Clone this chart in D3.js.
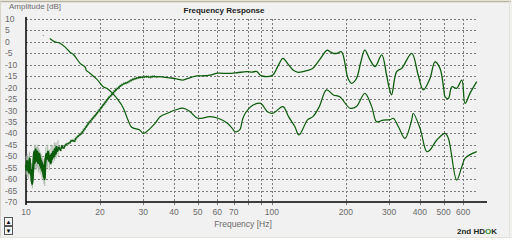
<!DOCTYPE html>
<html>
<head>
<meta charset="utf-8">
<script src="https://cdnjs.cloudflare.com/ajax/libs/d3/7.8.5/d3.min.js"></script>
<style>
  body { margin: 0; background: #fff; }
  svg { display: block; font-family: "Liberation Sans", Arial, sans-serif; }
</style>
</head>
<body>
<div id="chart"></div>
<script>
// y ticks (dB) and x tick labels (Hz)
var yTicks = [10, 5, 0, -5, -10, -15, -20, -25, -30, -35, -40, -45, -50, -55, -60, -65, -70];
var xLabels = [10, 20, 30, 40, 50, 60, 70, 100, 200, 300, 400, 500, 600];
var xGrid = [20, 30, 40, 50, 60, 70, 80, 90, 100, 200, 300, 400, 500, 600];

// curve A : noisy at low frequency, upper curve at high frequency
var freqA = [10.0, 10.05, 10.1, 10.15, 10.2, 10.25, 10.3, 10.35, 10.4, 10.45, 10.5, 10.55, 10.6, 10.65, 10.7, 10.75,
	10.8, 10.85, 10.9, 10.95, 11.0, 11.05, 11.1, 11.15, 11.2, 11.25, 11.3, 11.35, 11.4, 11.45, 11.5, 11.55, 11.6,
	11.65, 11.7, 11.75, 11.8, 11.85, 11.9, 11.95, 12.0, 12.1, 12.2, 12.3, 12.4, 12.5, 12.6, 12.7, 12.8, 12.9, 13.0,
	13.1, 13.2, 13.3, 13.4, 13.6, 13.8, 14.0, 14.2, 14.5, 14.8, 15.1, 15.4, 15.7, 16.0, 16.4, 16.8, 17.2, 17.6,
	18.0, 18.5, 19.0, 19.5, 20.0, 20.5, 21.0, 21.5, 22.0, 22.6, 23.2, 23.8, 24.4, 25.0, 25.8, 26.6, 27.4, 28.3,
	29.2, 30.0, 31, 32, 33, 34, 35.1, 37, 39, 41, 43.5, 46, 49.6, 53, 56, 60.4, 66, 72, 79, 83, 87, 89.5, 92,
	95.6, 101, 106, 111, 116, 122, 128, 134, 140, 147, 156, 168, 172.5, 178, 184, 192, 204, 211, 221, 230, 239,
	251, 263, 280, 293, 300, 307, 322, 338, 371, 394, 413, 440, 461, 483, 500, 507, 523, 540, 565, 593, 611, 640, 682];
var dbA = [-54, -56, -52, -55, -53, -57, -54, -51, -55, -58, -56, -60, -62, -58, -55, -51,
	-48, -53, -50, -47, -52, -49, -51, -48, -53, -50, -52, -49, -54, -51, -55, -52, -56,
	-53, -57, -54, -59, -56, -60, -55, -52, -49, -51, -48, -52, -50, -53, -49, -51, -48, -50,
	-47, -49, -46, -48, -46, -47.5, -45.5, -46.5, -45, -44.5, -44, -43, -43.5, -42, -41, -40, -38.5, -37,
	-35.5, -34, -32.5, -31, -29.5, -28, -26.5, -25, -23.8, -22.4, -21, -20, -19, -18.3, -17.8, -17, -16.3, -15.8,
	-15.5, -15.4, -15.2, -15.4, -15.1, -15.3, -15.2, -15.5, -15.8, -16.2, -16.7, -15.8, -14.9, -14.8, -14.5, -13.7, -13.8, -13.5, -13, -13.2, -13, -14.5, -15,
	-15.2, -14.5, -10.5, -7.2, -9.5, -12.3, -13.3, -13, -12.5, -11.5, -8, -3.6, -4.3, -5, -5, -4.3, -15.8, -18.1, -16, -9, -3.6,
	-7.9, -10.8, -5.7, -14.5, -20, -23.2, -13, -11.5, -5, -14.5, -21, -16, -8.7, -11.5, -20, -24, -24.7, -19.6, -20.3, -16.7, -26.9, -22.5, -17.4];

// light noise spikes around curve A at low frequency (min / max of the grey band)
var freqSpike = [10.02, 10.12, 10.22, 10.32, 10.42, 10.52, 10.62, 10.72, 10.82, 10.92, 11.02, 11.12, 11.22, 11.32,
	11.42, 11.52, 11.62, 11.72, 11.82, 11.92, 12.05, 12.25, 12.45, 12.65, 12.85, 13.05, 13.25, 13.5];
var dbSpikeLo = [-58, -59, -60, -57, -61, -63, -64, -60, -56, -55, -56, -55, -57, -56, -58, -57, -60, -59, -62, -63,
	-56, -55, -56, -54, -53, -52, -51, -50];
var dbSpikeHi = [-50, -49, -50, -48, -51, -53, -54, -49, -45, -45, -46, -45, -46, -47, -48, -49, -50, -51, -52, -51,
	-46, -45, -47, -45, -45, -44, -44, -43];

// curve B : starts near 0 dB, dips around 30 Hz, lower curve at high frequency
var freqB = [12.5, 13.1, 13.75, 14.5, 15.1, 15.6, 16.6, 17.4, 17.6, 18.2, 19.4, 20.6, 21.3, 22.5, 23.7, 24.9, 26.0,
	26.9, 29.0, 30.0, 33.5, 35.1, 38, 40.5, 43.5, 46.5, 50, 56, 60.5, 66, 69, 71, 74, 76, 78, 84, 90, 96, 101, 111,
	117, 124, 129, 140, 147, 156, 167, 178, 189, 208, 221, 239, 255, 267, 284, 303, 312, 327, 348, 371, 376, 401,
	427, 440, 469, 507, 523, 565, 593, 611, 682];
var dbB = [1.5, 0, -0.6, -2.5, -4.5, -5.5, -9.4, -11, -12.5, -13.7, -16.3, -19.6, -20.3, -22.5, -25.4, -29, -34.2,
	-37.3, -38.5, -40, -35.6, -32.7, -31, -29.8, -29, -30.5, -33.4, -32.7, -33.4, -35.6, -37.8, -39.3, -38.5, -34, -31.2, -27.6, -26.9, -30.5, -31.2, -28.3,
	-32.7, -37, -40.7, -34, -32.7, -28.3, -21, -23.2, -24, -29, -28.3, -22.5, -28.3, -34.9, -34.2, -34, -33.4, -37, -42.2, -34, -31.2, -37.8,
	-48, -47.3, -42.9, -40, -42.2, -60.4, -54.6, -50.9, -48];

var W = 512, H = 251;
var plotL = 26, plotR = 478, plotT = 19, plotB = 202;

var svg = d3.select("#chart")
	.append("svg")
	.attr("width", W)
	.attr("height", H);

// panel
svg.append("rect")
	.attr("x", 0).attr("y", 0)
	.attr("width", W).attr("height", 238)
	.attr("fill", "#f1f1f1");
svg.append("line")
	.attr("x1", 0).attr("x2", 511).attr("y1", 1.5).attr("y2", 1.5)
	.attr("stroke", "#b9b29c").attr("stroke-width", 1.5);
svg.append("line")
	.attr("x1", 0.5).attr("x2", 0.5).attr("y1", 1).attr("y2", 238)
	.attr("stroke", "#d8d4c8");
svg.append("line")
	.attr("x1", 509.5).attr("x2", 509.5).attr("y1", 1).attr("y2", 238)
	.attr("stroke", "#e4e1d8");
svg.append("line")
	.attr("x1", 0).attr("x2", 511).attr("y1", 237.5).attr("y2", 237.5)
	.attr("stroke", "#e4e1d8");

var x = d3.scaleLog()
	.domain([10, 690])
	.range([plotL, plotR]);

var y = d3.scaleLinear()
	.domain([-70, 10])
	.range([plotB, plotT]);

// grid
svg.append("g")
	.selectAll("line")
	.data(yTicks.filter(function (d) { return d > -70; }))
	.enter()
	.append("line")
	.attr("x1", plotL)
	.attr("x2", plotR)
	.attr("y1", function (d) { return Math.round(y(d)) + 0.5; })
	.attr("y2", function (d) { return Math.round(y(d)) + 0.5; })
	.attr("stroke", "#7a7a7a")
	.attr("stroke-dasharray", "2,2");

svg.append("g")
	.selectAll("line")
	.data(xGrid)
	.enter()
	.append("line")
	.attr("x1", function (d) { return Math.round(x(d)) + 0.5; })
	.attr("x2", function (d) { return Math.round(x(d)) + 0.5; })
	.attr("y1", plotT)
	.attr("y2", plotB + 4)
	.attr("stroke", "#7a7a7a")
	.attr("stroke-dasharray", "2,2");

// axes lines
svg.append("line")
	.attr("x1", plotL).attr("x2", plotL)
	.attr("y1", plotT - 2).attr("y2", plotB + 3)
	.attr("stroke", "#000").attr("stroke-width", 1.5);
svg.append("line")
	.attr("x1", plotL).attr("x2", 487)
	.attr("y1", plotB).attr("y2", plotB)
	.attr("stroke", "#000").attr("stroke-width", 1.5);

// tick labels
svg.append("g")
	.selectAll("text")
	.data(yTicks)
	.enter()
	.append("text")
	.attr("x", 5)
	.attr("y", function (d) { return y(d) + 3; })
	.style("font-size", "8.5px")
	.attr("fill", "#6b6b6b")
	.text(function (d) { return d; });

svg.append("g")
	.selectAll("text")
	.data(xLabels)
	.enter()
	.append("text")
	.attr("x", function (d) { return x(d); })
	.attr("y", 215)
	.attr("text-anchor", "middle")
	.style("font-size", "8.5px")
	.attr("fill", "#6b6b6b")
	.text(function (d) { return d; });

svg.append("text")
	.attr("x", 9)
	.attr("y", 9)
	.style("font-size", "8px")
	.attr("fill", "#6b6b6b")
	.text("Amplitude [dB]");

svg.append("text")
	.attr("x", 224)
	.attr("y", 13)
	.attr("text-anchor", "middle")
	.style("font-size", "8px")
	.style("font-weight", "bold")
	.attr("fill", "#222")
	.text("Frequency Response");

svg.append("text")
	.attr("x", 243)
	.attr("y", 227)
	.attr("text-anchor", "middle")
	.style("font-size", "8.5px")
	.attr("fill", "#6b6b6b")
	.text("Frequency [Hz]");

var hd = svg.append("text")
	.attr("x", 497)
	.attr("y", 234)
	.attr("text-anchor", "end")
	.style("font-size", "8px")
	.style("font-weight", "bold")
	.attr("fill", "#1e2a1e");
hd.append("tspan").text("2nd HD");
hd.append("tspan").attr("fill", "#2e8b2e").text("O");
hd.append("tspan").text("K");

// scroll buttons
[[217, "▲"], [226, "▼"]].forEach(function (b) {
	svg.append("rect")
		.attr("x", 4.5).attr("y", b[0] + 0.5)
		.attr("width", 8).attr("height", 8)
		.attr("fill", "#f4f4f4")
		.attr("stroke", "#555");
	svg.append("text")
		.attr("x", 8.5).attr("y", b[0] + 7)
		.attr("text-anchor", "middle")
		.style("font-size", "6px")
		.attr("fill", "#000")
		.text(b[1]);
});

// curves
var ptsA = freqA.map(function (f, i) { return [f, dbA[i]]; });
var ptsB = freqB.map(function (f, i) { return [f, dbB[i]]; });

var line = d3.line()
	.x(function (d) { return x(d[0]); })
	.y(function (d) { return y(d[1]); })
	.curve(d3.curveCatmullRom.alpha(0.5));

// grey noise spikes
svg.append("g")
	.selectAll("line")
	.data(freqSpike)
	.enter()
	.append("line")
	.attr("x1", function (d) { return x(d); })
	.attr("x2", function (d) { return x(d); })
	.attr("y1", function (d, i) { return y(dbSpikeLo[i]); })
	.attr("y2", function (d, i) { return y(dbSpikeHi[i]); })
	.attr("stroke", "#a9b8a9")
	.attr("stroke-width", 1);

// fuzz around the rising part
svg.append("path")
	.datum(ptsA.filter(function (d) { return d[0] >= 13 && d[0] <= 34; }))
	.attr("fill", "none")
	.attr("stroke", "#5f8f5f")
	.attr("stroke-width", 2.6)
	.attr("stroke-dasharray", "1,1")
	.attr("d", line);

svg.append("path")
	.datum(ptsA.filter(function (d) { return d[0] <= 13.4; }))
	.attr("fill", "none")
	.attr("stroke", "#0b5d0b")
	.attr("stroke-width", 2.4)
	.attr("d", line);

svg.append("path")
	.datum(ptsA)
	.attr("fill", "none")
	.attr("stroke", "#0b5d0b")
	.attr("stroke-width", 1.3)
	.attr("d", line);

svg.append("path")
	.datum(ptsB)
	.attr("fill", "none")
	.attr("stroke", "#0b5d0b")
	.attr("stroke-width", 1.2)
	.attr("d", line);

svg.append("rect")
	.attr("x", x(11.7)).attr("y", y(3))
	.attr("width", 1).attr("height", 1)
	.attr("fill", "#888");
</script>
</body>
</html>
